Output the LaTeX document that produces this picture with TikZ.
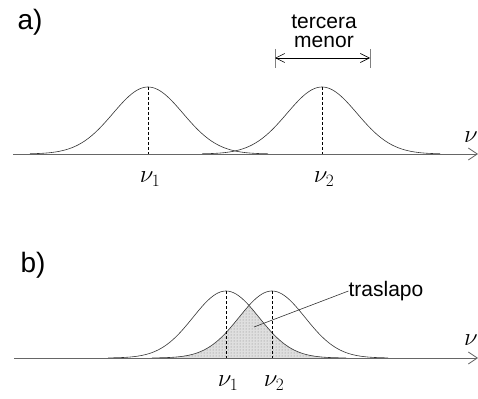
\documentclass[tikz,border=0pt]{standalone}
\usepackage{fontspec}
\setsansfont{Liberation Sans}
\usetikzlibrary{arrows.meta,patterns}

\begin{document}
\begin{tikzpicture}[x=1pt,y=-1pt,
  declare function={g(\x,\m,\s)=67*exp(-((\x-\m)^2)/(2*\s*\s));},
  curve/.style={black!80,line width=0.6pt},
  axis/.style={gray!80!black,line width=0.8pt,-{Straight Barb[length=9pt,width=12pt]}},
  peak/.style={densely dashed,line width=0.8pt},
  bar/.style={gray,line width=0.8pt},
  lbl/.style={font=\sffamily\fontsize{21}{19}\selectfont,inner sep=0pt,align=center},
  tag/.style={font=\sffamily\fontsize{28}{28}\selectfont,inner sep=0pt},
  freq/.style={font=\fontsize{26}{26}\selectfont,inner sep=0pt}
]
\useasboundingbox (0,0) rectangle (478,398);

% a) separated lines
\node[tag] (ta) at (30,22) {a)};
\draw[curve] plot[domain=30:268,samples=90] (\x,{154-g(\x,148,35)});
\draw[curve] plot[domain=202:440,samples=90] (\x,{154-g(\x,322,35)});
\coordinate (a0) at (13,154);
\coordinate (a1) at (478,154);
\draw[axis] (a0) -- (a1);
\node[freq] (nua) at (471,137) {$\nu$};
\coordinate (pa1) at (148,87);
\coordinate (ba1) at (148,154);
\coordinate (pa2) at (322,87);
\coordinate (ba2) at (322,154);
\draw[peak] (pa1) -- (ba1);
\draw[peak] (pa2) -- (ba2);
\node[freq] (na1) at (150,179) {$\nu_1$};
\node[freq] (na2) at (324,179) {$\nu_2$};

% interval
\node[lbl] (ter) at (324,31) {tercera\\menor};
\coordinate (d1) at (275,58);
\coordinate (d2) at (370,58);
\draw[bar] (275,49) -- (275,68);
\draw[bar] (370,49) -- (370,68);
\draw[line width=0.6pt,{Straight Barb[length=9pt,width=9pt]}-{Straight Barb[length=9pt,width=9pt]}] (d1) -- (d2);

% b) overlapping lines
\node[tag] (tb) at (33,265) {b)};
\path[preaction={fill=gray!25},pattern=dots,pattern color=gray]
  plot[domain=150:249,samples=50] (\x,{358-g(\x,272,33)})
  -- plot[domain=249:348,samples=50] (\x,{358-g(\x,226,33)})
  -- (348,358) -- (150,358) -- cycle;
\draw[curve] plot[domain=108:346,samples=90] (\x,{358-g(\x,226,33)});
\draw[curve] plot[domain=152:388,samples=90] (\x,{358-g(\x,272,33)});
\coordinate (b0) at (14,358);
\coordinate (b1) at (478,358);
\draw[axis] (b0) -- (b1);
\node[freq] (nub) at (471,340) {$\nu$};
\coordinate (pb1) at (226,291);
\coordinate (bb1) at (226,358);
\coordinate (pb2) at (272,291);
\coordinate (bb2) at (272,358);
\draw[peak] (pb1) -- (bb1);
\draw[peak] (pb2) -- (bb2);
\node[freq] (nb1) at (228,383) {$\nu_1$};
\node[freq] (nb2) at (274,383) {$\nu_2$};

\node[lbl] (ov) at (386,291) {traslapo};
\coordinate (ovp) at (254,327);
\draw[curve] (ovp) -- (ov.west);
\end{tikzpicture}
\end{document}
